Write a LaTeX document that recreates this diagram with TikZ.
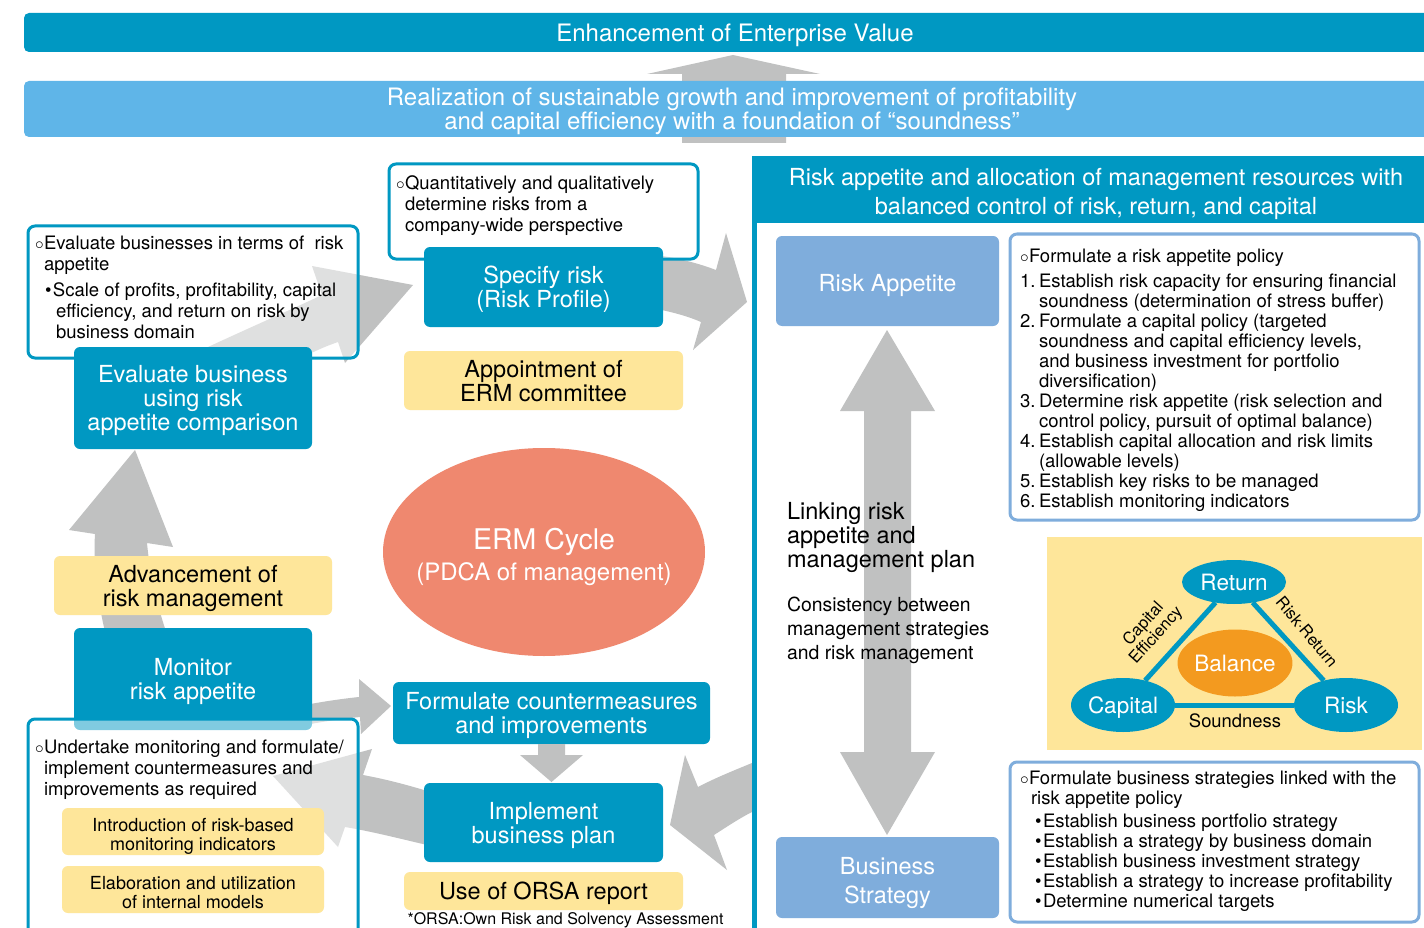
\documentclass[tikz,border=0pt]{standalone}
\usepackage{fontspec}
\setmainfont{TeX Gyre Heros}
\usetikzlibrary{shapes.geometric}
\definecolor{dblue}{HTML}{0098C2}
\definecolor{lblue}{HTML}{5FB5E8}
\definecolor{rablue}{HTML}{7FADDC}
\definecolor{agray}{HTML}{C0C1C1}
\definecolor{yel}{HTML}{FEE69A}
\definecolor{salmon}{HTML}{EF886F}
\definecolor{orng}{HTML}{F39A1F}
\newcommand{\wbul}{\makebox[9pt][l]{$\circ$}}
\newcommand{\bbul}{\makebox[8pt][l]{\textbullet}}
\newcommand{\numit}[1]{\makebox[19pt][l]{#1}}
\newcommand{\hind}[1]{\hspace*{#1pt}}
\begin{document}
\begin{tikzpicture}[x=1pt,y=-1pt,
  every node/.style={inner sep=0pt,outer sep=0pt},
  fbig/.style={font=\fontsize{23.5}{24}\selectfont},
  fsmall/.style={font=\fontsize{18.5}{21}\selectfont},
  bluebox/.style={fill=dblue,rounded corners=6pt,text=white,align=center,fbig,text depth=0pt},
  rabox/.style={fill=rablue,rounded corners=6pt,text=white,align=center,fbig,text depth=0pt},
  yelbox/.style={fill=yel,rounded corners=6pt,text=black,align=center,fbig,text depth=0pt},
  outbox/.style={draw=dblue,line width=3pt,rounded corners=7pt,fill=white,fill opacity=0.5},
  polbox/.style={draw=rablue,line width=3pt,rounded corners=7pt,fill=white},
  txt/.style={anchor=north west,align=left,fsmall,text=black},
  tri/.style={ellipse,fill=dblue,text=white,font=\fontsize{22.5}{24}\selectfont,text depth=0pt},
  triline/.style={draw=dblue,line width=5pt}
]
\useasboundingbox (0,0) rectangle (1424,928);
\fill[white] (0,0) rectangle (1424,928);

% ---- gray block arrows ----
\fill[agray] (682,143) -- (682,74) -- (647,74) -- (733,55) -- (820,74) -- (786,74) -- (786,143) -- cycle;
% A: evaluate -> specify
\fill[agray] (150,375) .. controls (220,340) and (280,315) .. (322,295) -- (312,266) -- (413,285) -- (345,363) -- (338,342) .. controls (300,355) and (260,380) .. (230,420) -- cycle;
% B: specify -> right panel
\fill[agray] (640,253) .. controls (670,256) and (695,262) .. (716,270) -- (726,233) -- (747,302) -- (693,350) -- (701,322) .. controls (685,315) and (665,310) .. (640,306) -- cycle;
% C: right panel -> implement
\fill[agray] (752,763) .. controls (735,770) and (715,778) .. (698,787) -- (685,755) -- (670,825) -- (727,870) -- (714,835) .. controls (728,826) and (740,818) .. (752,812) -- cycle;
% D: implement -> monitor
\fill[agray] (440,795) .. controls (415,787) and (390,780) .. (363,775) -- (372,749) -- (273,776) -- (338,847) -- (345,827) .. controls (375,832) and (405,840) .. (440,848) -- cycle;
% E: monitor -> formulate
\fill[agray] (300,706) .. controls (320,702) and (340,699) .. (359,697) -- (359,679) -- (391,706) -- (361,734) -- (360,717) .. controls (340,719) and (320,722) .. (300,726) -- cycle;
% F: monitor -> evaluate
\fill[agray] (107,640) .. controls (97,600) and (93,565) .. (95,534) -- (69,530) -- (135,450) -- (173,547) -- (147,543) .. controls (150,575) and (158,610) .. (169,640) -- cycle;
% double arrow
\fill[agray] (887,330) -- (935,411) -- (911,411) -- (911,752) -- (935,752) -- (887,835) -- (840,752) -- (864,752) -- (864,411) -- (840,411) -- cycle;

% ---- banners ----
\node[fill=dblue,rounded corners=5pt,text=white,font=\fontsize{24}{24}\selectfont,text depth=0pt,minimum width=1422,minimum height=39] (ev) at (735,32.5) {Enhancement of Enterprise Value};
\node[fill=lblue,rounded corners=5pt,text=white,align=center,font=\fontsize{24}{24}\selectfont,text depth=0pt,minimum width=1416,minimum height=56] (sg) at (732,109) {Realization of sustainable growth and improvement of profitability\\and capital efficiency with a foundation of “soundness”};
\node[fill=dblue,minimum width=688,minimum height=67] (rh) at (1096,189.5) {};
\node[text=white,align=center,font=\fontsize{23.5}{29}\selectfont,text depth=0pt] (rht) at (1096,191.5) {Risk appetite and allocation of management resources with\\balanced control of risk, return, and capital};
\draw[dblue,line width=5pt] (rh.south west) ++(2.5,-2) -- ++(0,720);

% ---- left cycle ----
\node[outbox,minimum width=330,minimum height=132] (evt) at (193,292) {};
\node[txt] (evtx) at (35,236) {\wbul Evaluate businesses in terms of\ \ risk\\ \hind{9}appetite\\[5pt] \hind{10}\bbul Scale of profits, profitability, capital\\ \hind{21}efficiency, and return on risk by\\ \hind{21}business domain};
\node[bluebox,minimum width=238,minimum height=102] (evb) at (193,398) {Evaluate business\\using risk\\appetite comparison};

\node[outbox,minimum width=309,minimum height=95] (qt) at (543.5,211.5) {};
\node[txt] (qtx) at (396,176) {\wbul Quantitatively and qualitatively\\ \hind{9}determine risks from a\\ \hind{9}company-wide perspective};
\node[bluebox,minimum width=239,minimum height=80] (sr) at (543.5,287) {Specify risk\\(Risk Profile)};
\node[yelbox,minimum width=279,minimum height=59] (erm) at (543.5,380.5) {Appointment of\\ERM committee};

\node[ellipse,fill=salmon,minimum width=322,minimum height=208] (cyc) at (544,552) {};
\node[text=white,align=center,font=\fontsize{28.5}{31}\selectfont,text depth=0pt] (cyct) at (544,554) {ERM Cycle\\{\fontsize{24}{24}\selectfont (PDCA of management)}};

\node[yelbox,minimum width=278,minimum height=59] (adv) at (193,585.5) {Advancement of\\risk management};
\node[bluebox,minimum width=238,minimum height=102] (mon) at (193,679) {Monitor\\risk appetite};
\node[outbox,minimum width=330,minimum height=220] (ut) at (193,829) {};
\node[txt] (utx) at (35,740) {\wbul Undertake monitoring and formulate/\\ \hind{9}implement countermeasures and\\ \hind{9}improvements as required};
\node[fill=yel,rounded corners=6pt,minimum width=262,minimum height=47] (y1) at (193,831.5) {};
\node[align=center,font=\fontsize{18}{19}\selectfont,text depth=0pt] (y1t) at (193,834.5) {Introduction of risk-based\\monitoring indicators};
\node[fill=yel,rounded corners=6pt,minimum width=262,minimum height=47] (y2) at (193,889.5) {};
\node[align=center,font=\fontsize{18}{19}\selectfont,text depth=0pt] (y2t) at (193,892.5) {Elaboration and utilization\\of internal models};

\node[bluebox,minimum width=317,minimum height=62] (fc) at (551.5,713) {Formulate countermeasures\\and improvements};
\fill[agray] (538,744) -- (538,755) -- (520,755) -- (551.5,782) -- (583,755) -- (565,755) -- (565,744) -- cycle;
\node[bluebox,minimum width=239,minimum height=79] (ib) at (543.5,822.5) {Implement\\business plan};
\node[yelbox,minimum width=279,minimum height=38] (orsa) at (543.5,891) {Use of ORSA report};
\node[font=\fontsize{16}{16}\selectfont,text depth=0pt] (fn) at (565.5,919) {*ORSA:Own Risk and Solvency Assessment};

% ---- right panel ----
\node[rabox,minimum width=223,minimum height=90] (ra) at (887.5,281) {};
\node[text=white,font=\fontsize{23.5}{24}\selectfont,text depth=0pt] (rat) at (887.5,283) {Risk Appetite};
\node[rabox,minimum width=223,minimum height=81] (bs) at (887.5,877.5) {};
\node[text=white,align=center,font=\fontsize{23.5}{29}\selectfont,text depth=0pt] (bst) at (887.5,880.5) {Business\\Strategy};
\node[anchor=north west,align=left,font=\fontsize{23.5}{24}\selectfont] (lk) at (787,502) {Linking risk\\appetite and\\management plan};
\node[anchor=north west,align=left,font=\fontsize{19.4}{24}\selectfont] (cs) at (787,597) {Consistency between\\management strategies\\and risk management};

\node[polbox,minimum width=409,minimum height=286] (pb) at (1214.5,377) {};
\node[txt,font=\fontsize{18.5}{20}\selectfont] (pbx) at (1020,249) {\wbul Formulate a risk appetite policy\\[5pt] \numit{1.}Establish risk capacity for ensuring financial\\ \hind{19}soundness (determination of stress buffer)\\ \numit{2.}Formulate a capital policy (targeted\\ \hind{19}soundness and capital efficiency levels,\\ \hind{19}and business investment for portfolio\\ \hind{19}diversification)\\ \numit{3.}Determine risk appetite (risk selection and\\ \hind{19}control policy, pursuit of optimal balance)\\ \numit{4.}Establish capital allocation and risk limits\\ \hind{19}(allowable levels)\\ \numit{5.}Establish key risks to be managed\\ \numit{6.}Establish monitoring indicators};

\node[fill=yel,minimum width=375,minimum height=213] (tribg) at (1234.5,643.5) {};
\node[tri,minimum width=104,minimum height=44] (ret) at (1234,582) {Return};
\node[tri,minimum width=104,minimum height=54] (cap) at (1123,705) {Capital};
\node[tri,minimum width=104,minimum height=54] (rsk) at (1346,705) {Risk};
\node[tri,fill=orng,minimum width=104,minimum height=67] (bal) at (1235,663) {Balance};
\draw[triline] (ret) -- (cap);
\draw[triline] (ret) -- (rsk);
\draw[triline] (cap) -- (rsk);
\node[font=\fontsize{18.4}{18}\selectfont] (snd) at (1235,721) {Soundness};
\node[font=\fontsize{16.5}{17}\selectfont,align=center,rotate=48] (ce) at (1150,630) {Capital\\Efficiency};
\node[font=\fontsize{16.5}{17}\selectfont,rotate=-50] (rr) at (1307,632) {Risk·Return};

\node[polbox,minimum width=409,minimum height=160] (bsb) at (1214.5,842) {};
\node[txt,font=\fontsize{18.5}{20}\selectfont] (bsx) at (1020,771) {\wbul Formulate business strategies linked with the\\ \hind{11}risk appetite policy\\[3pt] \hind{15}\bbul Establish business portfolio strategy\\ \hind{15}\bbul Establish a strategy by business domain\\ \hind{15}\bbul Establish business investment strategy\\ \hind{15}\bbul Establish a strategy to increase profitability\\ \hind{15}\bbul Determine numerical targets};
\end{tikzpicture}
\end{document}
